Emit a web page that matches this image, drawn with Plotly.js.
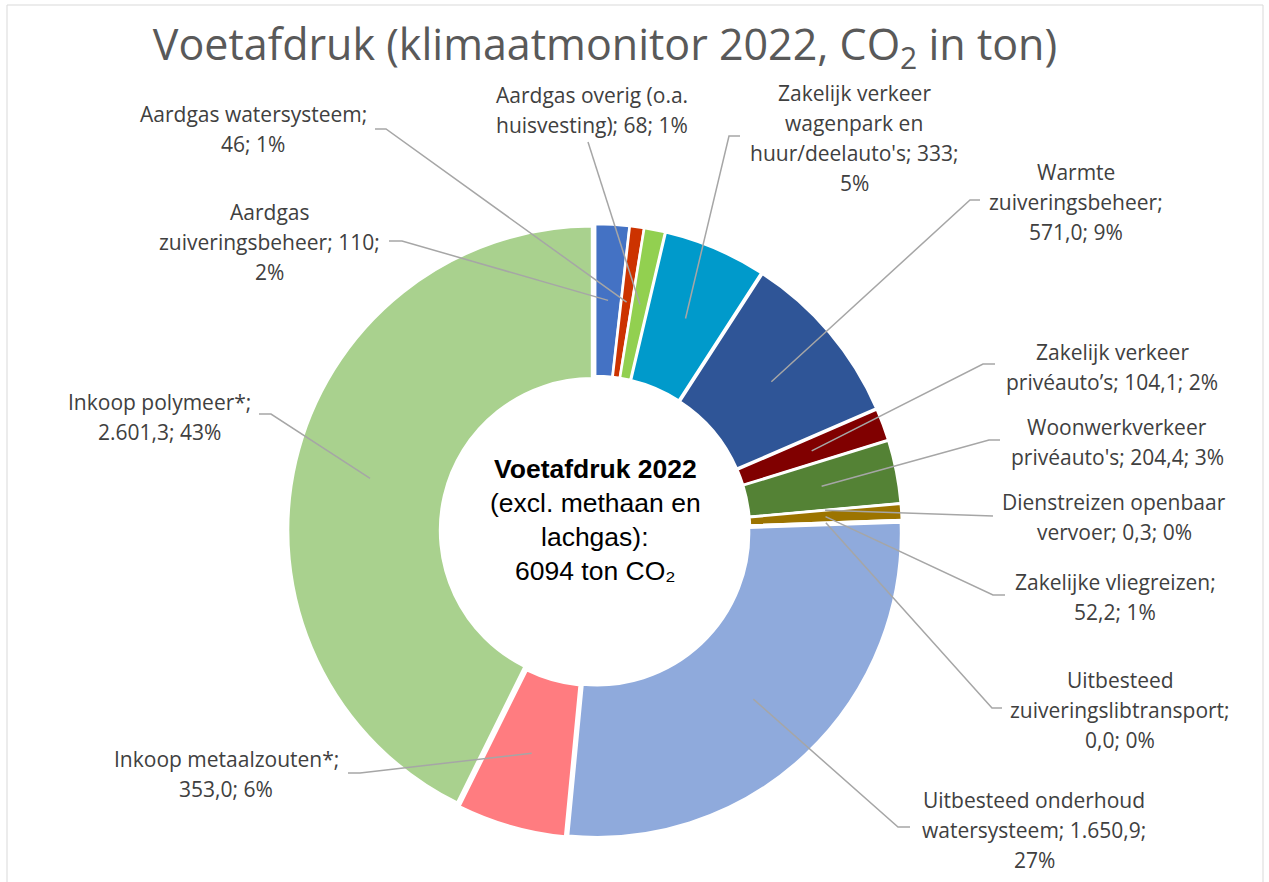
<!DOCTYPE html>
<html>
<head>
<meta charset="utf-8">
<script src="https://cdn.plot.ly/plotly-3.0.1.min.js"></script>
<style>
html,body{margin:0;padding:0;background:#ffffff;}
#chart{width:1269px;height:882px;}
</style>
</head>
<body>
<div id="chart"></div>
<script>
// ---------- DATA ----------
const categories = [
  'Aardgas zuiveringsbeheer',
  'Aardgas watersysteem',
  'Aardgas overig (o.a. huisvesting)',
  "Zakelijk verkeer wagenpark en huur/deelauto's",
  'Warmte zuiveringsbeheer',
  'Zakelijk verkeer privéauto’s',
  "Woonwerkverkeer privéauto's",
  'Dienstreizen openbaar vervoer',
  'Zakelijke vliegreizen',
  'Uitbesteed zuiveringslibtransport',
  'Uitbesteed onderhoud watersysteem',
  'Inkoop metaalzouten*',
  'Inkoop polymeer*'
];
const values = [110, 46, 68, 333, 571.0, 104.1, 204.4, 0.3, 52.2, 0.0, 1650.9, 353.0, 2601.3];
const labelLines = [
  ['Aardgas', 'zuiveringsbeheer; 110;', '2%'],
  ['Aardgas watersysteem;', '46; 1%'],
  ['Aardgas overig (o.a.', 'huisvesting); 68; 1%'],
  ['Zakelijk verkeer', 'wagenpark en', "huur/deelauto's; 333;", '5%'],
  ['Warmte', 'zuiveringsbeheer;', '571,0; 9%'],
  ['Zakelijk verkeer', 'privéauto’s; 104,1; 2%'],
  ['Woonwerkverkeer', "privéauto's; 204,4; 3%"],
  ['Dienstreizen openbaar', 'vervoer; 0,3; 0%'],
  ['Zakelijke vliegreizen;', '52,2; 1%'],
  ['Uitbesteed', 'zuiveringslibtransport;', '0,0; 0%'],
  ['Uitbesteed onderhoud', 'watersysteem; 1.650,9;', '27%'],
  ['Inkoop metaalzouten*;', '353,0; 6%'],
  ['Inkoop polymeer*;', '2.601,3; 43%']
];
const centerLines = ['<b>Voetafdruk 2022</b>', '(excl. methaan en', 'lachgas):', '6094 ton CO₂'];
const titleText = 'Voetafdruk (klimaatmonitor 2022, CO<sub>2</sub> in ton)';

// ---------- STYLE / LAYOUT ----------
const sliceColors = ['#4472C4','#CC3300','#92D050','#009ACB','#2F5597','#800000','#548235',
                     '#A5A5A5','#9C7400','#FFC000','#8FAADC','#FF7C80','#A9D18E'];
const W = 1269, H = 882;
const CX = 595, CY = 531, OUTER = 307, HOLE = 0.5, PULL = 0.01;
const LEADER_R = 231;
const LINE_GAP = 30;
// label block centre [x, y] (px) and leader end / elbow [ex, ey, kx]
const labelPos = [
  [269, 242], [253, 129], [592, 110], [854, 138], [1076, 202], [1112, 367], [1117, 442],
  [1114, 517], [1115, 597], [1120, 710], [1034, 830], [226, 774], [160, 417]
];
const leaderEnd = [
  [389, 241, 402], [375, 129, 386], [588, 142, 588], [740, 136, 729], [980, 200, 970],
  [995, 364, 983], [1000, 440, 989], [993, 516, 993], [1005, 595, 993], [1002, 708, 992],
  [910, 827, 898], [348, 773, 360], [259, 414, 271]
];

const px = x => x / W;
const py = y => 1 - y / H;

const trace = {
  type: 'pie',
  labels: categories,
  values: values,
  sort: false,
  direction: 'clockwise',
  rotation: 0,
  hole: HOLE,
  pull: PULL,
  textinfo: 'none',
  hoverinfo: 'label+value+percent',
  marker: { colors: sliceColors, line: { color: '#ffffff', width: 2.5 } },
  domain: {
    x: [px(CX - OUTER), px(CX + OUTER)],
    y: [py(CY + OUTER), py(CY - OUTER)]
  },
  showlegend: false
};

// leader lines computed from data
const total = values.reduce((a, b) => a + b, 0);
const shapes = [];
let cum = 0;
values.forEach((v, i) => {
  const mid = (cum + v / 2) / total * 2 * Math.PI;
  cum += v;
  const sx = CX + LEADER_R * Math.sin(mid);
  const sy = CY - LEADER_R * Math.cos(mid);
  const [ex, ey, kx] = leaderEnd[i];
  shapes.push({
    type: 'path', xref: 'paper', yref: 'paper',
    path: `M ${px(ex)},${py(ey)} L ${px(kx)},${py(ey)} L ${px(sx)},${py(sy)}`,
    line: { color: '#A6A6A6', width: 1.5 }
  });
});
// chart border
shapes.push({
  type: 'rect', xref: 'paper', yref: 'paper',
  x0: px(7), x1: px(1263), y0: py(900), y1: py(5),
  line: { color: '#D9D9D9', width: 1 }, fillcolor: 'rgba(0,0,0,0)'
});

const annotations = [];
labelLines.forEach((lines, i) => {
  const [lx, ly] = labelPos[i];
  lines.forEach((t, j) => {
    annotations.push({
      xref: 'paper', yref: 'paper',
      x: px(lx), y: py(ly + (j - (lines.length - 1) / 2) * LINE_GAP),
      xanchor: 'center', yanchor: 'middle', showarrow: false,
      text: t, font: { family: 'Open Sans, sans-serif', size: 21, color: '#404040' }
    });
  });
});
centerLines.forEach((t, j) => {
  annotations.push({
    xref: 'paper', yref: 'paper',
    x: px(CX), y: py(469 + j * 34),
    xanchor: 'center', yanchor: 'middle', showarrow: false,
    text: t, font: { family: 'Liberation Sans, Arial, sans-serif', size: 26.5, color: '#000000' }
  });
});

const layout = {
  width: W, height: H,
  margin: { l: 0, r: 0, t: 0, b: 0 },
  paper_bgcolor: '#ffffff',
  title: {
    text: titleText,
    x: px(605), xanchor: 'center',
    y: py(45), yanchor: 'middle', yref: 'container',
    font: { family: 'Open Sans, sans-serif', size: 43, color: '#595959' }
  },
  shapes: shapes,
  annotations: annotations
};

Plotly.newPlot('chart', [trace], layout, { displayModeBar: false, staticPlot: true });
</script>
</body>
</html>
